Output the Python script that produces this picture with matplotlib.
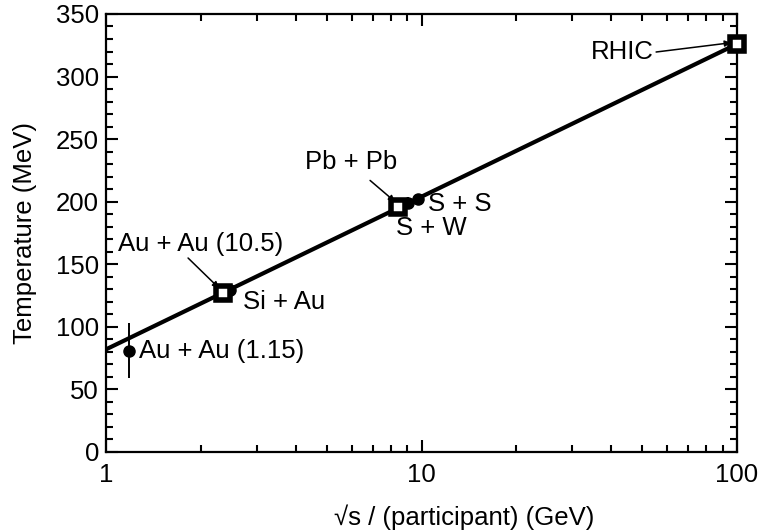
import matplotlib
matplotlib.use("Agg")
import matplotlib.pyplot as plt
from matplotlib.ticker import FixedLocator, NullFormatter

plt.rcParams["font.family"] = ["Liberation Sans", "DejaVu Sans"]

# fitted line endpoints
LINE_X = [1, 100]
LINE_T = [82, 326]

# open squares: Au+Au (10.5), Pb+Pb, RHIC
SQ_X = [2.35, 8.43, 100]
SQ_T = [127, 196, 326]

# filled circles: Au+Au (1.15), Si+Au, S+W, S+S
CI_X = [1.18, 2.47, 9.06, 9.75]
CI_T = [81, 129.5, 199, 202]
CI_ERR = [22, 5, 5, 0]

# plain labels (text, x, y)
LABELS = [
    ("Au + Au (1.15)", 1.27, 80.5),
    ("Si + Au", 2.72, 120),
    ("S + S", 10.5, 198),
    ("S + W", 8.3, 179),
]
# labels with arrows (text, text x, text y, tail x, tail y, head x, head y, ha)
ARROWS = [
    ("Au + Au (10.5)", 2.0, 166, 1.82, 155, 2.28, 131, "center"),
    ("Pb + Pb", 6.0, 232, 6.87, 217, 8.24, 200, "center"),
    ("RHIC", 54.6, 320, 55.4, 319.6, 95.7, 327, "right"),
]

FS = 18.5

fig = plt.figure(figsize=(7.61, 5.31), dpi=100)
ax = fig.add_axes([0.1393, 0.1488, 0.8292, 0.8249])

ax.plot(LINE_X, LINE_T, color="black", lw=3.0, zorder=2)
ax.errorbar(CI_X, CI_T, yerr=CI_ERR, fmt="o", color="black", ms=8,
            elinewidth=1.4, capsize=0, zorder=3)
ax.plot(SQ_X, SQ_T, "s", mfc="white", mec="black", mew=4, ms=10.5,
        zorder=4, clip_on=False)

for txt, x, y in LABELS:
    ax.text(x, y, txt, fontsize=FS, ha="left", va="center")

for txt, tx, ty, ax0, ay0, hx, hy, ha in ARROWS:
    ax.text(tx, ty, txt, fontsize=FS, ha=ha, va="center")
    ax.annotate("", xy=(hx, hy), xytext=(ax0, ay0),
                arrowprops=dict(arrowstyle="-|>", lw=1.1, color="black",
                                mutation_scale=9, shrinkA=0, shrinkB=0))

ax.set_xscale("log")
ax.set_xlim(1, 100)
ax.set_ylim(0, 350)
ax.xaxis.set_major_locator(FixedLocator([1, 10, 100]))
ax.set_xticklabels(["1", "10", "100"])
ax.xaxis.set_minor_locator(FixedLocator([m * d for d in (1, 10) for m in range(2, 10)]))
ax.xaxis.set_minor_formatter(NullFormatter())
ax.set_yticks(range(0, 351, 50))
ax.yaxis.set_minor_locator(FixedLocator(range(0, 351, 10)))

ax.tick_params(which="both", direction="in", top=True, right=True,
               labelsize=FS, width=1.5)
ax.tick_params(which="major", length=8.5)
ax.tick_params(which="minor", length=5)
ax.tick_params(axis="x", pad=8)
ax.tick_params(axis="y", pad=5)
for s in ax.spines.values():
    s.set_linewidth(1.6)

ax.set_xlabel("\u221As / (participant) (GeV)", fontsize=FS)
ax.xaxis.set_label_coords(0.567, -0.12)
ax.set_ylabel("Temperature (MeV)", fontsize=FS)
ax.yaxis.set_label_coords(-0.11, 0.5)

fig.savefig("out.png", dpi=100)
